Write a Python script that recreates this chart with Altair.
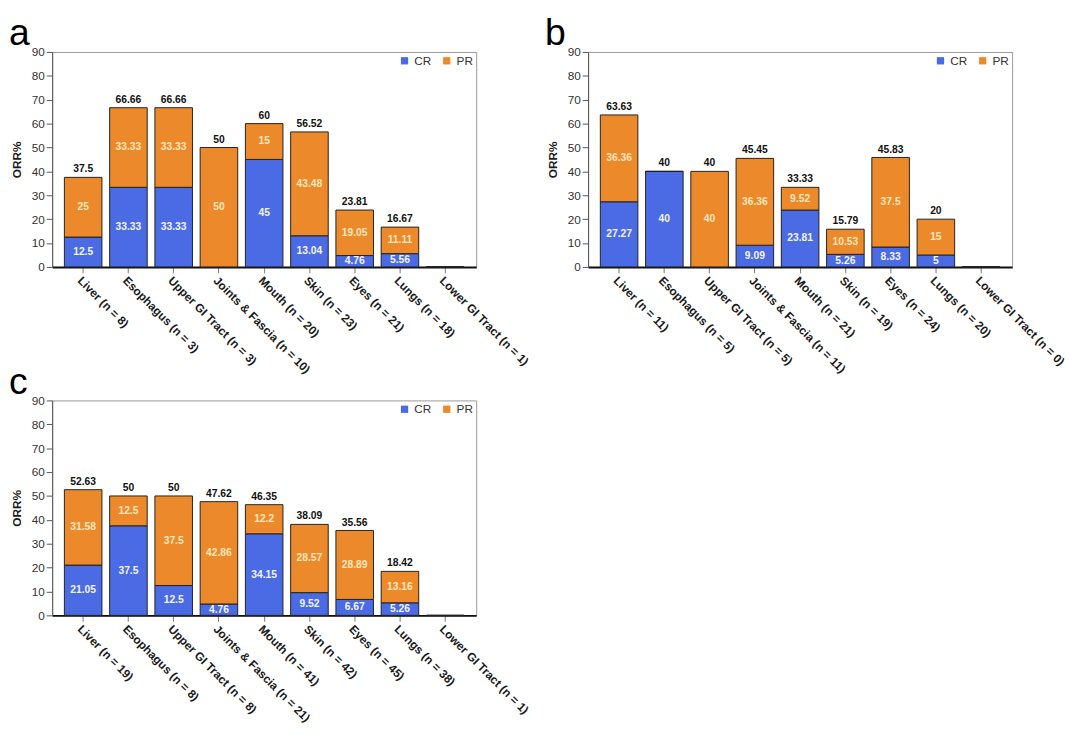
import altair as alt
import pandas as pd

organs = ["Liver", "Esophagus", "Upper GI Tract", "Joints & Fascia", "Mouth",
          "Skin", "Eyes", "Lungs", "Lower GI Tract"]

n_a = [8, 3, 3, 10, 20, 23, 21, 18, 1]
cr_a = [12.5, 33.33, 33.33, 0, 45, 13.04, 4.76, 5.56, 0]
pr_a = [25, 33.33, 33.33, 50, 15, 43.48, 19.05, 11.11, 0]
tot_a = [37.5, 66.66, 66.66, 50, 60, 56.52, 23.81, 16.67, None]

n_b = [11, 5, 5, 11, 21, 19, 24, 20, 0]
cr_b = [27.27, 40, 0, 9.09, 23.81, 5.26, 8.33, 5, 0]
pr_b = [36.36, 0, 40, 36.36, 9.52, 10.53, 37.5, 15, 0]
tot_b = [63.63, 40, 40, 45.45, 33.33, 15.79, 45.83, 20, None]

n_c = [19, 8, 8, 21, 41, 42, 45, 38, 1]
cr_c = [21.05, 37.5, 12.5, 4.76, 34.15, 9.52, 6.67, 5.26, 0]
pr_c = [31.58, 12.5, 37.5, 42.86, 12.2, 28.57, 28.89, 13.16, 0]
tot_c = [52.63, 50, 50, 47.62, 46.35, 38.09, 35.56, 18.42, None]

y_ticks = [0, 10, 20, 30, 40, 50, 60, 70, 80, 90]

BLUE = "#4a6be3"
ORANGE = "#ec8a2b"
FONT = "Liberation Sans"


def panel(letter, ns, cr, pr, tot):
    labels = [f"{o} (n = {n})" for o, n in zip(organs, ns)]
    df = pd.DataFrame({"organ": labels, "CR": cr, "PR": pr, "total": tot})
    base = alt.Chart(df)
    xaxis = alt.Axis(labelAngle=45, labelFontSize=12, labelFontWeight="bold",
                     labelColor="#1a1a1a", labelFont=FONT, tickColor="#777",
                     tickSize=6, domainColor="#111", domainWidth=2, labelPadding=2)
    xscale = alt.Scale(paddingInner=0.17, paddingOuter=0.27)
    yaxis = alt.Axis(values=y_ticks, title="ORR%",
                     titleFontSize=12, titleFontWeight="bold", titleFont=FONT,
                     titleColor="#1a1a1a", labelFontSize=12, labelFont=FONT,
                     labelColor="#333", tickColor="#555", tickSize=6,
                     domainColor="#555", grid=False, titlePadding=8)
    yscale = alt.Scale(domain=[0, 90], nice=False)

    def X():
        return alt.X("organ:N", sort=labels, title=None, scale=xscale, axis=xaxis)

    bars = base.transform_fold(["CR", "PR"], as_=["type", "value"]).mark_bar(
        stroke="#222", strokeWidth=1
    ).encode(
        x=X(),
        y=alt.Y("value:Q", stack="zero", scale=yscale, axis=yaxis),
        color=alt.Color("type:N", scale=alt.Scale(domain=["CR", "PR"], range=[BLUE, ORANGE]),
                        legend=alt.Legend(title=None, orient="top-right", direction="horizontal",
                                          symbolType="square", symbolSize=55, symbolStrokeWidth=0,
                                          labelFontSize=12, labelFont=FONT, labelColor="#333",
                                          columnPadding=9, offset=1, padding=2)),
        order=alt.Order("type:N", sort="ascending"),
    )
    inner = base.transform_fold(["CR", "PR"], as_=["type", "value"]).transform_filter(
        "datum.value > 0"
    ).transform_calculate(
        mid="datum.type == 'CR' ? datum.CR / 2 : datum.CR + datum.PR / 2"
    ).mark_text(fontWeight="bold", fontSize=10.5, font=FONT).encode(
        x=X(),
        y=alt.Y("mid:Q", scale=yscale, axis=yaxis),
        text=alt.Text("value:N"),
        color=alt.condition("datum.type == 'CR'", alt.value("#f4f4f4"), alt.value("#fbe6bd")),
    )
    totals = base.transform_filter("isValid(datum.total)").mark_text(
        fontWeight="bold", fontSize=10.5, font=FONT, color="#111", dy=-8
    ).encode(
        x=X(),
        y=alt.Y("total:Q", scale=yscale, axis=yaxis),
        text=alt.Text("total:N"),
    )
    return alt.layer(bars, inner, totals).properties(
        width=432, height=219,
        title=alt.TitleParams(letter, anchor="start", frame="group", fontSize=38,
                              font=FONT, fontWeight="normal", color="#000",
                              dx=-44, dy=7, offset=0),
    )


pa = panel("a", n_a, cr_a, pr_a, tot_a)
pb = panel("b", n_b, cr_b, pr_b, tot_b)
pc = panel("c", n_c, cr_c, pr_c, tot_c)

chart = alt.concat(pa, pb, pc, columns=2, spacing={"row": 136, "column": 114},
                   bounds="flush").resolve_scale(
    color="independent", x="independent", y="independent"
).resolve_legend(color="independent").configure_view(
    stroke="#999", strokeWidth=1
).properties(padding={"left": 0, "top": 0, "right": 5, "bottom": 0})

chart.save("out.html", embed_options={"renderer": "svg", "actions": False})
